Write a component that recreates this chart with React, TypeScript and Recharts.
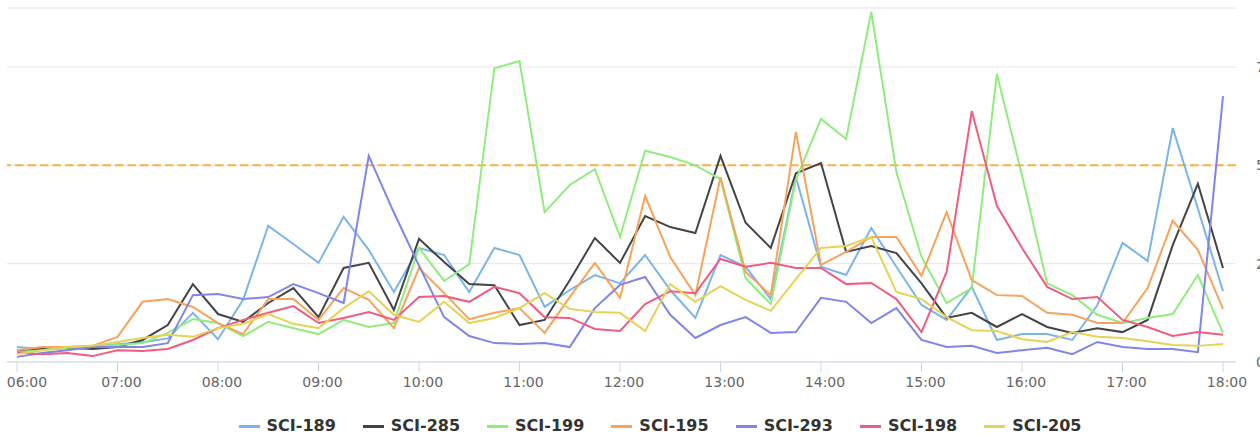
import React from 'react';
import { LineChart, Line, XAxis, YAxis, CartesianGrid, ReferenceLine } from 'recharts';

const times = [
  '06:00', '06:15', '06:30', '06:45', '07:00', '07:15', '07:30', '07:45',
  '08:00', '08:15', '08:30', '08:45', '09:00', '09:15', '09:30', '09:45',
  '10:00', '10:15', '10:30', '10:45', '11:00', '11:15', '11:30', '11:45',
  '12:00', '12:15', '12:30', '12:45', '13:00', '13:15', '13:30', '13:45',
  '14:00', '14:15', '14:30', '14:45', '15:00', '15:15', '15:30', '15:45',
  '16:00', '16:15', '16:30', '16:45', '17:00', '17:15', '17:30', '17:45',
  '18:00',
];

const sci189 = [0.38, 0.33, 0.35, 0.4, 0.45, 0.5, 0.6, 1.25, 0.58, 1.58, 3.46, 3.0, 2.52, 3.69, 2.85, 1.78, 2.9, 2.72, 1.78, 2.9, 2.72, 1.4, 1.83, 2.21, 2.0, 2.72, 1.83, 1.12, 2.72, 2.42, 1.6, 4.7, 2.42, 2.21, 3.41, 2.42, 1.45, 1.07, 1.91, 0.56, 0.71, 0.71, 0.56, 1.45, 3.03, 2.57, 5.95, 3.9, 1.8];
const sci285 = [0.3, 0.33, 0.36, 0.33, 0.38, 0.56, 0.94, 1.98, 1.22, 1.02, 1.5, 1.88, 1.14, 2.39, 2.52, 1.32, 3.13, 2.54, 1.98, 1.95, 0.94, 1.07, 2.08, 3.15, 2.52, 3.71, 3.43, 3.28, 5.24, 3.54, 2.9, 4.8, 5.06, 2.8, 2.95, 2.77, 2.0, 1.12, 1.25, 0.89, 1.22, 0.89, 0.74, 0.86, 0.76, 1.07, 2.97, 4.53, 2.39];
const sci199 = [0.25, 0.3, 0.36, 0.38, 0.43, 0.48, 0.74, 1.09, 0.99, 0.66, 1.02, 0.86, 0.71, 1.07, 0.89, 0.99, 2.9, 2.06, 2.49, 7.47, 7.65, 3.81, 4.5, 4.9, 3.18, 5.37, 5.21, 5.0, 4.65, 2.13, 1.47, 4.63, 6.18, 5.67, 8.9, 4.83, 2.67, 1.5, 1.88, 7.32, 4.75, 2.0, 1.7, 1.2, 0.99, 1.12, 1.22, 2.21, 0.74];
const sci195 = [0.3, 0.38, 0.38, 0.41, 0.64, 1.53, 1.6, 1.4, 0.99, 0.71, 1.6, 1.6, 1.07, 1.88, 1.58, 0.86, 2.39, 1.75, 1.09, 1.25, 1.37, 0.74, 1.65, 2.52, 1.63, 4.22, 2.67, 1.7, 4.7, 2.29, 1.7, 5.85, 2.47, 2.8, 3.18, 3.18, 2.19, 3.81, 2.08, 1.7, 1.68, 1.25, 1.2, 0.99, 0.99, 1.88, 3.59, 2.85, 1.35];
const sci293 = [0.13, 0.23, 0.3, 0.38, 0.38, 0.38, 0.48, 1.7, 1.73, 1.6, 1.65, 1.98, 1.75, 1.5, 5.24, 3.8, 2.45, 1.14, 0.66, 0.48, 0.46, 0.48, 0.38, 1.37, 1.96, 2.16, 1.2, 0.61, 0.94, 1.14, 0.74, 0.76, 1.63, 1.53, 0.99, 1.37, 0.56, 0.38, 0.41, 0.23, 0.3, 0.36, 0.2, 0.51, 0.38, 0.33, 0.33, 0.25, 6.76];
const sci198 = [0.25, 0.2, 0.23, 0.15, 0.3, 0.28, 0.33, 0.56, 0.86, 1.07, 1.25, 1.42, 0.99, 1.12, 1.27, 1.07, 1.65, 1.68, 1.53, 1.91, 1.75, 1.14, 1.12, 0.84, 0.79, 1.47, 1.8, 1.75, 2.62, 2.42, 2.52, 2.39, 2.39, 1.98, 2.01, 1.6, 0.76, 2.29, 6.38, 3.97, 2.9, 1.91, 1.6, 1.65, 1.07, 0.89, 0.66, 0.76, 0.69];
const sci205 = [0.2, 0.3, 0.38, 0.41, 0.51, 0.61, 0.69, 0.64, 0.86, 0.97, 1.22, 0.97, 0.86, 1.37, 1.8, 1.2, 1.02, 1.53, 0.99, 1.12, 1.37, 1.75, 1.35, 1.27, 1.25, 0.79, 1.98, 1.53, 1.93, 1.58, 1.3, 2.11, 2.9, 2.95, 3.18, 1.78, 1.6, 1.14, 0.81, 0.79, 0.58, 0.51, 0.76, 0.64, 0.61, 0.53, 0.43, 0.41, 0.46];

const yTicks = [0, 2.5, 5, 7.5];
const threshold = 5;

const series = [
  { name: 'SCI-189', values: sci189, color: '#7cb5ec' },
  { name: 'SCI-285', values: sci285, color: '#434348' },
  { name: 'SCI-199', values: sci199, color: '#90ed7d' },
  { name: 'SCI-195', values: sci195, color: '#f7a35c' },
  { name: 'SCI-293', values: sci293, color: '#8085e9' },
  { name: 'SCI-198', values: sci198, color: '#f15c80' },
  { name: 'SCI-205', values: sci205, color: '#e4d354' },
];

const data = times.map((time, i) => {
  const row: Record<string, string | number> = { time };
  for (const s of series) row[s.name] = s.values[i];
  return row;
});

const FONT = '"DejaVu Sans", sans-serif';

// first label is nudged right so it isn't clipped at the left edge
function TimeTick(props: any) {
  const { x, y, payload, index } = props;
  const shift = index === 0 ? 10 : 4;
  return (
    <text x={x + shift} y={y} dy="0.71em" textAnchor="middle" fill="#666666" fontSize={14} fontFamily={FONT}>
      {payload.value}
    </text>
  );
}

export default function App() {
  return (
    <div style={{ position: 'absolute', left: 0, top: 0, width: 1260, height: 439, overflow: 'hidden', background: '#fff', fontFamily: FONT }}>
      <LineChart width={1320} height={439} data={data} margin={{ top: 8, right: 24, bottom: 47, left: 7 }}>
        <CartesianGrid vertical={false} stroke="#e6e6e6" />
        <XAxis
          dataKey="time"
          interval={3}
          padding={{ left: 10, right: 13 }}
          height={30}
          tickSize={10}
          tickMargin={5}
          axisLine={{ stroke: '#ccd6eb' }}
          tickLine={{ stroke: '#ccd6eb' }}
          tick={<TimeTick />}
        />
        <YAxis
          orientation="right"
          width={60}
          domain={[0, 9]}
          ticks={yTicks}
          axisLine={false}
          tickLine={false}
          tickMargin={14}
          tick={{ fill: '#666666', fontSize: 14, fontFamily: FONT, textAnchor: 'start' }}
        />
        <ReferenceLine y={threshold} stroke="#fbb13c" strokeWidth={2} strokeDasharray="8.5 4" />
        {series.map(s => (
          <Line
            key={s.name}
            type="linear"
            dataKey={s.name}
            stroke={s.color}
            strokeWidth={2}
            dot={false}
            activeDot={false}
            isAnimationActive={false}
          />
        ))}
      </LineChart>
      <div style={{ position: 'absolute', left: 0, top: 416, width: 1320, height: 20, display: 'flex', justifyContent: 'center', alignItems: 'center', gap: 27 }}>
        {series.map(s => (
          <div key={s.name} style={{ display: 'flex', alignItems: 'center' }}>
            <span style={{ display: 'inline-block', width: 21, height: 3, background: s.color, marginRight: 7 }} />
            <span style={{ fontSize: 16, fontWeight: 'bold', color: '#333333', lineHeight: '20px' }}>{s.name}</span>
          </div>
        ))}
      </div>
    </div>
  );
}
